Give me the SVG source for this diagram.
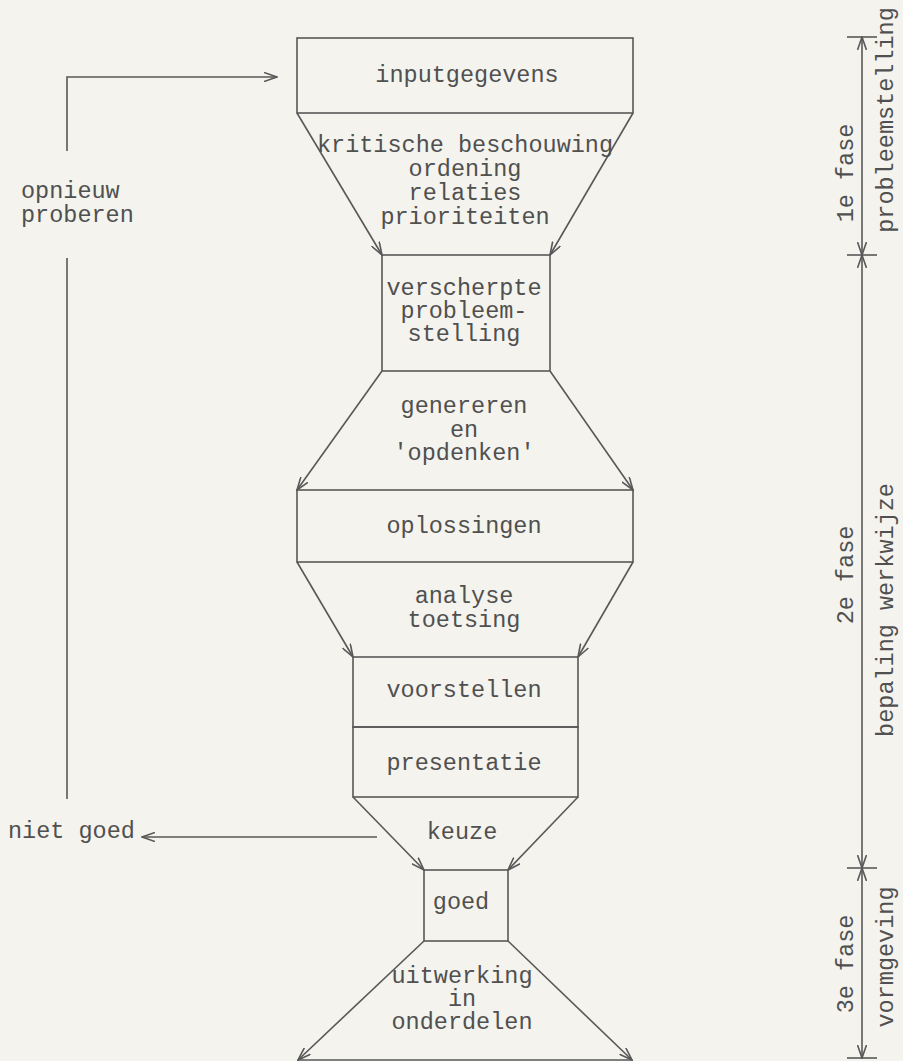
<svg xmlns="http://www.w3.org/2000/svg" width="903" height="1061" viewBox="0 0 903 1061">
<style>
.bx{fill:none;stroke:#585858;stroke-width:1.6}
.ln{fill:none;stroke:#585858;stroke-width:1.6}
.t{font-family:"Liberation Mono","Courier New",monospace;font-size:23.5px;fill:#505050;text-anchor:middle}
.tl{font-family:"Liberation Mono","Courier New",monospace;font-size:23.5px;fill:#505050}
</style>
<defs>
<marker id="ah" viewBox="0 0 14 10" refX="13" refY="5" markerWidth="14" markerHeight="10" orient="auto-start-reverse" markerUnits="userSpaceOnUse">
<path d="M0,0.5 L13,5 L0,9.5" fill="none" stroke="#585858" stroke-width="1.6"/>
</marker>
</defs>
<rect x="0" y="0" width="903" height="1061" fill="#f4f3ee"/>

<g id="connectors">
<line class="ln" x1="297" y1="113" x2="382" y2="255" marker-end="url(#ah)"/>
<line class="ln" x1="633" y1="113" x2="550" y2="255" marker-end="url(#ah)"/>
<line class="ln" x1="382" y1="371" x2="297" y2="490" marker-end="url(#ah)"/>
<line class="ln" x1="550" y1="371" x2="633" y2="490" marker-end="url(#ah)"/>
<line class="ln" x1="297" y1="562" x2="353" y2="657" marker-end="url(#ah)"/>
<line class="ln" x1="633" y1="562" x2="578" y2="657" marker-end="url(#ah)"/>
<line class="ln" x1="353" y1="797" x2="424" y2="870" marker-end="url(#ah)"/>
<line class="ln" x1="578" y1="797" x2="508" y2="870" marker-end="url(#ah)"/>
<line class="ln" x1="424" y1="941" x2="298" y2="1060" marker-end="url(#ah)"/>
<line class="ln" x1="508" y1="941" x2="632" y2="1060" marker-end="url(#ah)"/>
<polyline class="ln" points="67,151 67,77 277,77" marker-end="url(#ah)"/>
<line class="ln" x1="67" y1="258" x2="67" y2="799"/>
<line class="ln" x1="377" y1="837" x2="142" y2="837" marker-end="url(#ah)"/>
</g>

<g id="labels">
<text class="t" x="465" y="152">kritische beschouwing</text>
<text class="t" x="465" y="176">ordening</text>
<text class="t" x="465" y="200">relaties</text>
<text class="t" x="465" y="224">prioriteiten</text>
<text class="t" x="464" y="413">genereren</text>
<text class="t" x="464" y="437">en</text>
<text class="t" x="464" y="460">'opdenken'</text>
<text class="t" x="464" y="603">analyse</text>
<text class="t" x="464" y="627">toetsing</text>
<text class="t" x="462" y="839">keuze</text>
<text class="t" x="462" y="983">uitwerking</text>
<text class="t" x="462" y="1006">in</text>
<text class="t" x="462" y="1029">onderdelen</text>
<text class="tl" x="21" y="198">opnieuw</text>
<text class="tl" x="21" y="222">proberen</text>
<text class="tl" x="8" y="838">niet goed</text>
</g>

<g id="node-inputgegevens">
<rect class="bx" x="297" y="38" width="336" height="75"/>
<text class="t" x="467" y="82">inputgegevens</text>
</g>
<g id="node-verscherpte">
<rect class="bx" x="382" y="255" width="168" height="116"/>
<text class="t" x="464" y="295">verscherpte</text>
<text class="t" x="464" y="318">probleem-</text>
<text class="t" x="464" y="341">stelling</text>
</g>
<g id="node-oplossingen">
<rect class="bx" x="297" y="490" width="336" height="72"/>
<text class="t" x="464" y="533">oplossingen</text>
</g>
<g id="node-voorstellen">
<rect class="bx" x="353" y="657" width="225" height="70"/>
<text class="t" x="464" y="697">voorstellen</text>
</g>
<g id="node-presentatie">
<rect class="bx" x="353" y="727" width="225" height="70"/>
<text class="t" x="464" y="770">presentatie</text>
</g>
<g id="node-goed">
<rect class="bx" x="424" y="870" width="84" height="71"/>
<text class="t" x="461" y="909">goed</text>
</g>
<g id="node-bottom">
<line class="ln" x1="298" y1="1060" x2="632" y2="1060"/>
</g>

<g id="phase-axis">
<line class="ln" x1="862" y1="37" x2="862" y2="255" marker-start="url(#ah)" marker-end="url(#ah)"/>
<line class="ln" x1="862" y1="255" x2="862" y2="868" marker-start="url(#ah)" marker-end="url(#ah)"/>
<line class="ln" x1="862" y1="868" x2="862" y2="1058" marker-start="url(#ah)" marker-end="url(#ah)"/>
<line class="ln" x1="847" y1="37" x2="877" y2="37"/>
<line class="ln" x1="847" y1="255" x2="877" y2="255"/>
<line class="ln" x1="847" y1="868" x2="877" y2="868"/>
<line class="ln" x1="847" y1="1058" x2="877" y2="1058"/>
<text class="t" transform="translate(853,173) rotate(-90)">1e fase</text>
<text class="t" transform="translate(893,120) rotate(-90)">probleemstelling</text>
<text class="t" transform="translate(853,575) rotate(-90)">2e fase</text>
<text class="t" transform="translate(893,610) rotate(-90)">bepaling werkwijze</text>
<text class="t" transform="translate(853,964) rotate(-90)">3e fase</text>
<text class="t" transform="translate(893,957) rotate(-90)">vormgeving</text>
</g>
</svg>
